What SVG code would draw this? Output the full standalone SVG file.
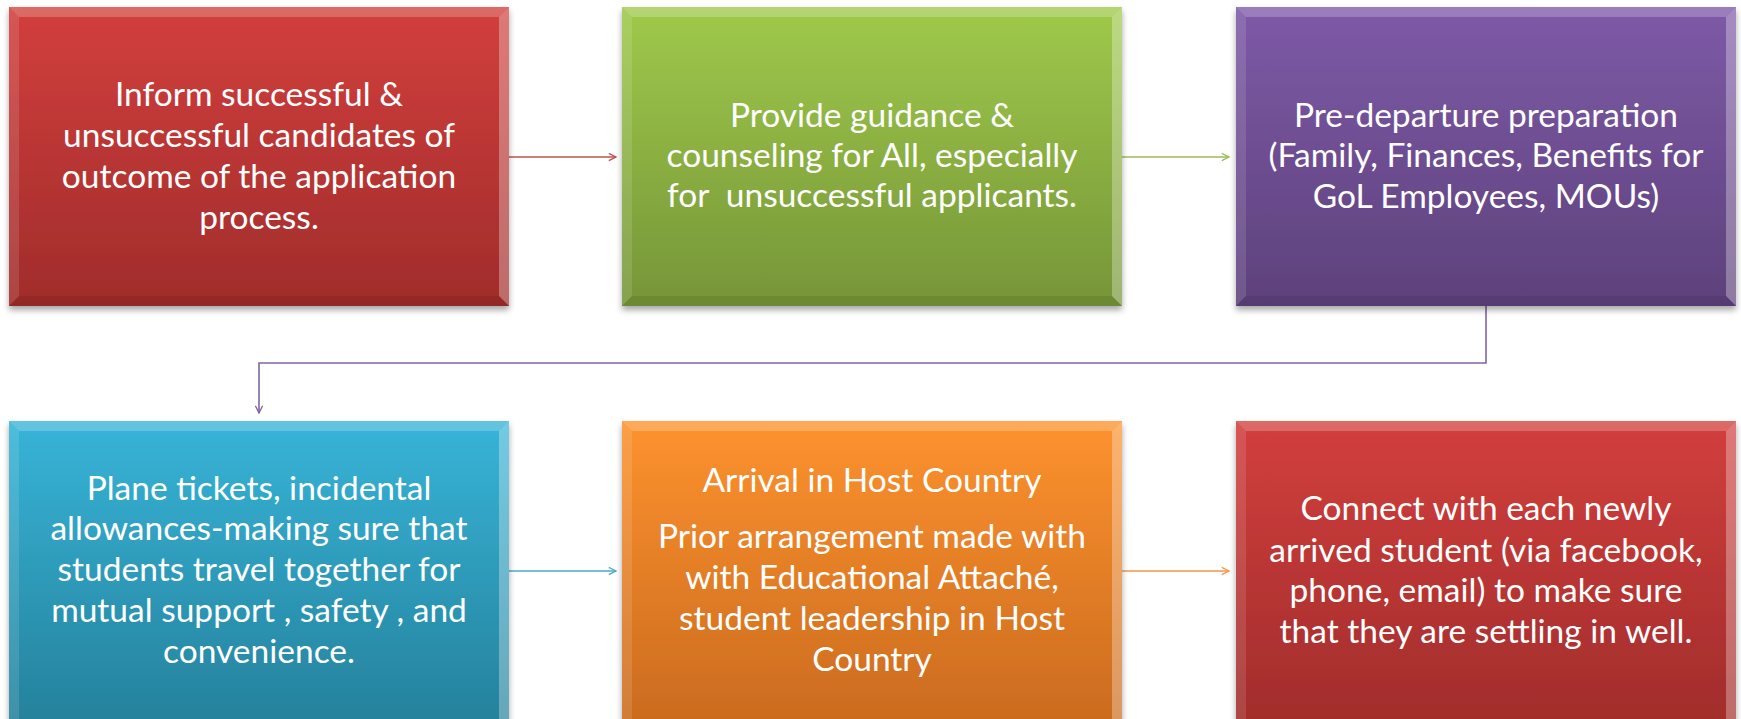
<svg xmlns="http://www.w3.org/2000/svg" width="1741" height="719" viewBox="0 0 1741 719">
<defs>
<linearGradient id="gRed" x1="0" y1="0" x2="0" y2="1"><stop offset="0" stop-color="#D23F3D"/><stop offset="1" stop-color="#A02C2B"/></linearGradient>
<linearGradient id="gGreen" x1="0" y1="0" x2="0" y2="1"><stop offset="0" stop-color="#9FC94B"/><stop offset="1" stop-color="#769538"/></linearGradient>
<linearGradient id="gPurple" x1="0" y1="0" x2="0" y2="1"><stop offset="0" stop-color="#7E5AA7"/><stop offset="1" stop-color="#5D417B"/></linearGradient>
<linearGradient id="gBlue" x1="0" y1="0" x2="0" y2="1"><stop offset="0" stop-color="#37B4D8"/><stop offset="1" stop-color="#25809A"/></linearGradient>
<linearGradient id="gOrange" x1="0" y1="0" x2="0" y2="1"><stop offset="0" stop-color="#FD922F"/><stop offset="1" stop-color="#C96A1E"/></linearGradient>
<filter id="sh" x="-5%" y="-5%" width="110%" height="115%"><feDropShadow dx="0" dy="4" stdDeviation="3" flood-color="#000" flood-opacity="0.35"/></filter>
<marker id="ahR" viewBox="0 0 10 10" refX="9" refY="5" markerWidth="9" markerHeight="9" orient="auto" markerUnits="userSpaceOnUse"><path d="M1,1 L9,5 L1,9" fill="none" stroke="#C0504D" stroke-width="1.5"/></marker>
<marker id="ahG" viewBox="0 0 10 10" refX="9" refY="5" markerWidth="9" markerHeight="9" orient="auto" markerUnits="userSpaceOnUse"><path d="M1,1 L9,5 L1,9" fill="none" stroke="#9BBB59" stroke-width="1.5"/></marker>
<marker id="ahP" viewBox="0 0 10 10" refX="9" refY="5" markerWidth="9" markerHeight="9" orient="auto" markerUnits="userSpaceOnUse"><path d="M1,1 L9,5 L1,9" fill="none" stroke="#8064A2" stroke-width="1.5"/></marker>
<marker id="ahB" viewBox="0 0 10 10" refX="9" refY="5" markerWidth="9" markerHeight="9" orient="auto" markerUnits="userSpaceOnUse"><path d="M1,1 L9,5 L1,9" fill="none" stroke="#4BACC6" stroke-width="1.5"/></marker>
<marker id="ahO" viewBox="0 0 10 10" refX="9" refY="5" markerWidth="9" markerHeight="9" orient="auto" markerUnits="userSpaceOnUse"><path d="M1,1 L9,5 L1,9" fill="none" stroke="#F79646" stroke-width="1.5"/></marker>
</defs>
<style>
.t{font-family:Lato,"Open Sans","Liberation Sans",sans-serif;font-size:33.5px;fill:#fff;text-anchor:middle;white-space:pre}
.bt{fill:#fff;opacity:0.22}
.bl{fill:#fff;opacity:0.12}
.br{fill:#fff;opacity:0.3}
.bb{fill:#000;opacity:0.08}
.c{fill:none;stroke-width:1.6}
</style>
<rect width="1741" height="719" fill="#fff"/>
<g id="connectors">
<line class="c" x1="509" y1="157" x2="616" y2="157" stroke="#C0504D" marker-end="url(#ahR)"/>
<line class="c" x1="1122" y1="157" x2="1229" y2="157" stroke="#9BBB59" marker-end="url(#ahG)"/>
<polyline class="c" points="1486,306 1486,363 259,363 259,413" stroke="#8064A2" marker-end="url(#ahP)"/>
<line class="c" x1="509" y1="571" x2="616" y2="571" stroke="#4BACC6" marker-end="url(#ahB)"/>
<line class="c" x1="1122" y1="571" x2="1229" y2="571" stroke="#F79646" marker-end="url(#ahO)"/>
</g>
<g id="node1">
<rect x="9" y="7" width="500" height="299" fill="url(#gRed)" filter="url(#sh)"/>
<polygon class="bt" points="9,7 509,7 499,17 19,17"/><polygon class="bl" points="9,7 19,17 19,296 9,306"/><polygon class="br" points="509,7 509,306 499,296 499,17"/><polygon class="bb" points="9,306 509,306 499,296 19,296"/>
<text class="t" x="259" y="106">Inform successful &amp;</text>
<text class="t" x="259" y="147">unsuccessful candidates of</text>
<text class="t" x="259" y="188">outcome of the application</text>
<text class="t" x="259" y="229">process.</text>
</g>
<g id="node2">
<rect x="622" y="7" width="500" height="299" fill="url(#gGreen)" filter="url(#sh)"/>
<polygon class="bt" points="622,7 1122,7 1112,17 632,17"/><polygon class="bl" points="622,7 632,17 632,296 622,306"/><polygon class="br" points="1122,7 1122,306 1112,296 1112,17"/><polygon class="bb" points="622,306 1122,306 1112,296 632,296"/>
<text class="t" x="872" y="127">Provide guidance &amp;</text>
<text class="t" x="872" y="167">counseling for All, especially</text>
<text class="t" x="872" y="207">for  unsuccessful applicants.</text>
</g>
<g id="node3">
<rect x="1236" y="7" width="500" height="299" fill="url(#gPurple)" filter="url(#sh)"/>
<polygon class="bt" points="1236,7 1736,7 1726,17 1246,17"/><polygon class="bl" points="1236,7 1246,17 1246,296 1236,306"/><polygon class="br" points="1736,7 1736,306 1726,296 1726,17"/><polygon class="bb" points="1236,306 1736,306 1726,296 1246,296"/>
<text class="t" x="1486" y="127">Pre-departure preparation</text>
<text class="t" x="1486" y="167">(Family, Finances, Benefits for</text>
<text class="t" x="1486" y="208">GoL Employees, MOUs)</text>
</g>
<g id="node4">
<rect x="9" y="421" width="500" height="310" fill="url(#gBlue)" filter="url(#sh)"/>
<polygon class="bt" points="9,421 509,421 499,431 19,431"/><polygon class="bl" points="9,421 19,431 19,731 9,731"/><polygon class="br" points="509,421 509,731 499,731 499,431"/>
<text class="t" x="259" y="500">Plane tickets, incidental</text>
<text class="t" x="259" y="540">allowances-making sure that</text>
<text class="t" x="259" y="581">students travel together for</text>
<text class="t" x="259" y="622">mutual support , safety , and</text>
<text class="t" x="259" y="663">convenience.</text>
</g>
<g id="node5">
<rect x="622" y="421" width="500" height="310" fill="url(#gOrange)" filter="url(#sh)"/>
<polygon class="bt" points="622,421 1122,421 1112,431 632,431"/><polygon class="bl" points="622,421 632,431 632,731 622,731"/><polygon class="br" points="1122,421 1122,731 1112,731 1112,431"/>
<text class="t" x="872" y="492">Arrival in Host Country</text>
<text class="t" x="872" y="548">Prior arrangement made with</text>
<text class="t" x="872" y="589">with Educational Attaché,</text>
<text class="t" x="872" y="630">student leadership in Host</text>
<text class="t" x="872" y="671">Country</text>
</g>
<g id="node6">
<rect x="1236" y="421" width="500" height="310" fill="url(#gRed)" filter="url(#sh)"/>
<polygon class="bt" points="1236,421 1736,421 1726,431 1246,431"/><polygon class="bl" points="1236,421 1246,431 1246,731 1236,731"/><polygon class="br" points="1736,421 1736,731 1726,731 1726,431"/>
<text class="t" x="1486" y="520">Connect with each newly</text>
<text class="t" x="1486" y="562">arrived student (via facebook,</text>
<text class="t" x="1486" y="602">phone, email) to make sure</text>
<text class="t" x="1486" y="643">that they are settling in well.</text>
</g>
</svg>
